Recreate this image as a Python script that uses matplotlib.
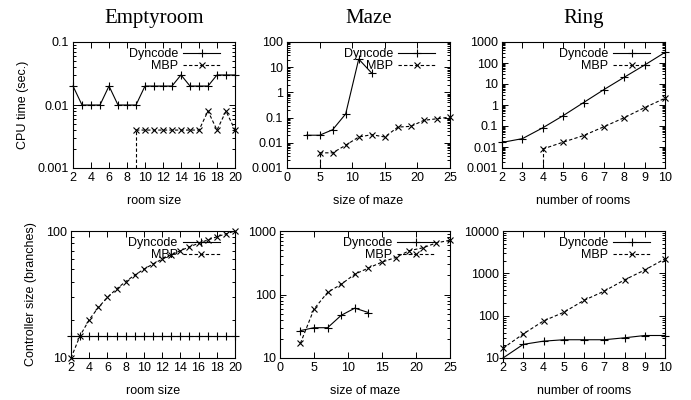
import matplotlib
matplotlib.use("Agg")
import matplotlib.pyplot as plt
from matplotlib.ticker import LogLocator, FixedLocator, FuncFormatter, NullFormatter

# ДАННЫЕ
# Emptyroom
room_x = list(range(2, 21))
room_cpu_dyn = [0.02, 0.01, 0.01, 0.01, 0.02, 0.01, 0.01, 0.01, 0.02, 0.02,
                0.02, 0.02, 0.03, 0.02, 0.02, 0.02, 0.03, 0.03, 0.03]
room_mbp_x = list(range(9, 21))
room_cpu_mbp = [0.004, 0.004, 0.004, 0.004, 0.004, 0.004, 0.004, 0.004,
                0.008, 0.004, 0.008, 0.004]
room_size_dyn = [15] * 19
room_size_mbp = [10, 15, 20, 25, 30, 35, 40, 45, 50, 55, 60, 65, 70, 75,
                 80, 85, 90, 95, 100]

# Maze
maze_dyn_x = [3, 5, 7, 9, 11, 13]
maze_cpu_dyn = [0.02, 0.02, 0.033, 0.14, 21, 5.8]
maze_cpu_mbp_x = [5, 7, 9, 11, 13, 15, 17, 19, 21, 23, 25]
maze_cpu_mbp = [0.004, 0.004, 0.008, 0.017, 0.021, 0.017, 0.042, 0.045,
                0.078, 0.09, 0.105]
maze_size_dyn = [27, 30, 30, 47, 61, 52]
maze_size_mbp_x = [3, 5, 7, 9, 11, 13, 15, 17, 19, 21, 23, 25]
maze_size_mbp = [17, 59, 108, 145, 209, 261, 324, 382, 490, 543, 650, 715]

# Ring
ring_x = list(range(2, 11))
ring_cpu_dyn = [0.0165, 0.025, 0.082, 0.31, 1.3, 5.4, 21, 80, 320]
ring_mbp_x = list(range(4, 11))
ring_cpu_mbp = [0.008, 0.017, 0.035, 0.092, 0.25, 0.75, 2.1]
ring_size_dyn = [10, 21, 25, 27, 27, 27, 30, 34, 34]
ring_size_mbp = [17, 37, 75, 120, 230, 380, 700, 1200, 2200]

titles = ["Emptyroom", "Maze", "Ring"]
xlabels = ["room size", "size of maze", "number of rooms"]

plt.rcParams['font.family'] = ['Liberation Sans', 'DejaVu Sans']
FS = 9

fig = plt.figure(figsize=(6.91, 4.0), dpi=100)

# положения осей в пикселях (лево, право), (низ, верх)
cols_top = [(73, 235), (287, 450), (502, 665)]
cols_bot = [(71, 235), (280, 450), (503, 665)]
row_top = (168, 42)
row_bot = (358, 231)


def make_ax(col, row):
    l, r = col
    b, t = row
    return fig.add_axes([l / 691, 1 - b / 400, (r - l) / 691, (b - t) / 400])


def style(ax, xlim, xticks, ylim):
    ax.set_yscale('log')
    ax.set_xlim(*xlim)
    ax.set_ylim(*ylim)
    ax.xaxis.set_major_locator(FixedLocator(xticks))
    ax.yaxis.set_major_locator(LogLocator(base=10, numticks=20))
    ax.yaxis.set_minor_locator(LogLocator(base=10, subs=range(2, 10), numticks=20))
    ax.yaxis.set_major_formatter(FuncFormatter(lambda v, p: '%g' % v))
    ax.yaxis.set_minor_formatter(NullFormatter())
    ax.tick_params(which='both', direction='in', top=True, right=True,
                   labelsize=FS, width=0.7, pad=3)
    ax.tick_params(which='major', length=4)
    ax.tick_params(which='minor', length=2)
    for s in ax.spines.values():
        s.set_linewidth(0.8)


def draw(ax, xd, yd, xm, ym):
    ax.plot(xd, yd, color='black', lw=0.8, marker='+', ms=6, mew=0.8,
            label='Dyncode', clip_on=False)
    ax.plot(xm, ym, color='black', lw=0.8, ls=(0, (3, 2)), marker='x', ms=5,
            mew=0.8, label='MBP', clip_on=False)
    ax.legend(loc='upper right', bbox_to_anchor=(0.91, 0.95), frameon=False,
              markerfirst=False, fontsize=FS, handlelength=3.0,
              handletextpad=0.4, labelspacing=0.0, borderpad=0,
              borderaxespad=0)


xlims = [(2, 20), (0, 25), (2, 10)]
xticks = [list(range(2, 21, 2)), list(range(0, 26, 5)), list(range(2, 11))]

# Верхний ряд: время CPU
cpu = [(room_x, room_cpu_dyn, room_mbp_x, room_cpu_mbp),
       (maze_dyn_x, maze_cpu_dyn, maze_cpu_mbp_x, maze_cpu_mbp),
       (ring_x, ring_cpu_dyn, ring_mbp_x, ring_cpu_mbp)]
cpu_ylims = [(0.001, 0.1), (0.001, 100), (0.001, 1000)]

for i in range(3):
    ax = make_ax(cols_top[i], row_top)
    style(ax, xlims[i], xticks[i], cpu_ylims[i])
    xd, yd, xm, ym = cpu[i]
    draw(ax, xd, yd, xm, ym)
    # линия MBP от нижнего края к первой точке
    ax.vlines(xm[0], cpu_ylims[i][0], ym[0], colors='black', lw=0.8,
              linestyles=(0, (3, 2)))
    ax.set_title(titles[i], family='Liberation Serif', fontsize=15, pad=14)
    ax.set_xlabel(xlabels[i], fontsize=FS, labelpad=8)
    if i == 0:
        ax.set_ylabel('CPU time (sec.)', fontsize=FS, labelpad=6)

# Нижний ряд: размер контроллера
size = [(room_x, room_size_dyn, room_x, room_size_mbp),
        (maze_dyn_x, maze_size_dyn, maze_size_mbp_x, maze_size_mbp),
        (ring_x, ring_size_dyn, ring_x, ring_size_mbp)]
size_ylims = [(10, 100), (10, 1000), (10, 10000)]

for i in range(3):
    ax = make_ax(cols_bot[i], row_bot)
    style(ax, xlims[i], xticks[i], size_ylims[i])
    xd, yd, xm, ym = size[i]
    draw(ax, xd, yd, xm, ym)
    ax.set_xlabel(xlabels[i], fontsize=FS, labelpad=8)
    if i == 0:
        ax.set_ylabel('Controller size (branches)', fontsize=FS, labelpad=6)

fig.savefig('out.png', dpi=100)
